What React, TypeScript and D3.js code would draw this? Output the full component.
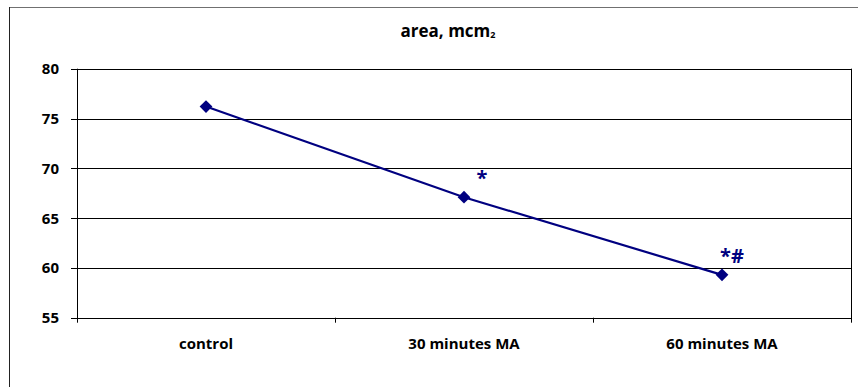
import React, { useEffect, useRef } from 'react'
import * as d3 from 'd3'

// values
const categories = ['control', '30 minutes MA', '60 minutes MA']
const areaValues = [76.2, 67.1, 59.3]
const marks = ['', '*', '*#']
const yTicks = [55, 60, 65, 70, 75, 80]

const W = 858
const H = 387
const FONT = 'Open Sans, Lato, sans-serif'
const NAVY = '#000080'

export default function App() {
  const ref = useRef<SVGSVGElement>(null)

  useEffect(() => {
    const svg = d3.select(ref.current)
    svg.selectAll('*').remove()

    const left = 77, right = 851, top = 68.7, bottom = 317.7

    const x = d3.scaleBand().domain(categories).range([left, right])
    const y = d3.scaleLinear().domain([55, 80]).range([bottom, top])

    // outer frame (cropped on the right and bottom)
    svg.append('line').attr('x1', 9).attr('x2', W).attr('y1', 7.5).attr('y2', 7.5)
      .attr('stroke', '#707070')
    svg.append('line').attr('x1', 9.5).attr('x2', 9.5).attr('y1', 7).attr('y2', H)
      .attr('stroke', '#222')

    svg.append('text')
      .attr('x', 448).attr('y', 37)
      .attr('text-anchor', 'middle')
      .style('font-family', FONT).style('font-weight', 'bold').style('font-size', '17px')
      .call(t => {
        t.append('tspan').text('area, mcm')
        t.append('tspan').text('2').style('font-size', '9px').attr('dy', 1)
      })

    // gridlines
    svg.append('g').selectAll('line').data(yTicks).join('line')
      .attr('x1', left - 6).attr('x2', right)
      .attr('y1', d => Math.round(y(d)) + 0.5).attr('y2', d => Math.round(y(d)) + 0.5)
      .attr('stroke', '#000').attr('stroke-width', 1)

    svg.append('g').selectAll('text').data(yTicks).join('text')
      .attr('x', 59).attr('y', d => y(d) + 5.5)
      .attr('text-anchor', 'end')
      .style('font-family', FONT).style('font-weight', 'bold').style('font-size', '15px')
      .text(d => d)

    // axes box
    svg.append('line').attr('x1', left + 0.5).attr('x2', left + 0.5)
      .attr('y1', top).attr('y2', bottom + 5).attr('stroke', '#000')
    svg.append('line').attr('x1', right + 0.5).attr('x2', right + 0.5)
      .attr('y1', top).attr('y2', bottom + 5).attr('stroke', '#000')

    const catEdges = categories.slice(1).map(c => x(c) as number)
    svg.append('g').selectAll('line').data(catEdges).join('line')
      .attr('x1', d => Math.round(d) + 0.5).attr('x2', d => Math.round(d) + 0.5)
      .attr('y1', bottom).attr('y2', bottom + 5).attr('stroke', '#000')

    svg.append('g').selectAll('text').data(categories).join('text')
      .attr('x', d => (x(d) as number) + x.bandwidth() / 2)
      .attr('y', 349)
      .attr('text-anchor', 'middle')
      .style('font-family', FONT).style('font-weight', 'bold').style('font-size', '15px')
      .text(d => d)

    const pts = categories.map((c, i) => ({ cx: (x(c) as number) + x.bandwidth() / 2, cy: y(areaValues[i]) }))

    const line = d3.line<{ cx: number; cy: number }>().x(d => d.cx).y(d => d.cy)
    svg.append('path').attr('d', line(pts)).attr('fill', 'none')
      .attr('stroke', NAVY).attr('stroke-width', 2.2)

    svg.append('g').selectAll('rect').data(pts).join('rect')
      .attr('x', -4.5).attr('y', -4.5).attr('width', 9).attr('height', 9)
      .attr('transform', d => `translate(${d.cx},${d.cy}) rotate(45)`)
      .attr('fill', NAVY)

    svg.append('g').selectAll('text').data(pts).join('text')
      .attr('x', (d, i) => d.cx + (i === 2 ? 10 : 18))
      .attr('y', d => d.cy - 12)
      .attr('text-anchor', 'middle')
      .style('font-family', FONT).style('font-weight', 'bold').style('font-size', '20px')
      .attr('fill', NAVY)
      .text((d, i) => marks[i])
  }, [])

  return (
    <svg ref={ref} width={W} height={H} style={{ position: 'absolute', left: 0, top: 0, background: '#fff' }} />
  )
}
